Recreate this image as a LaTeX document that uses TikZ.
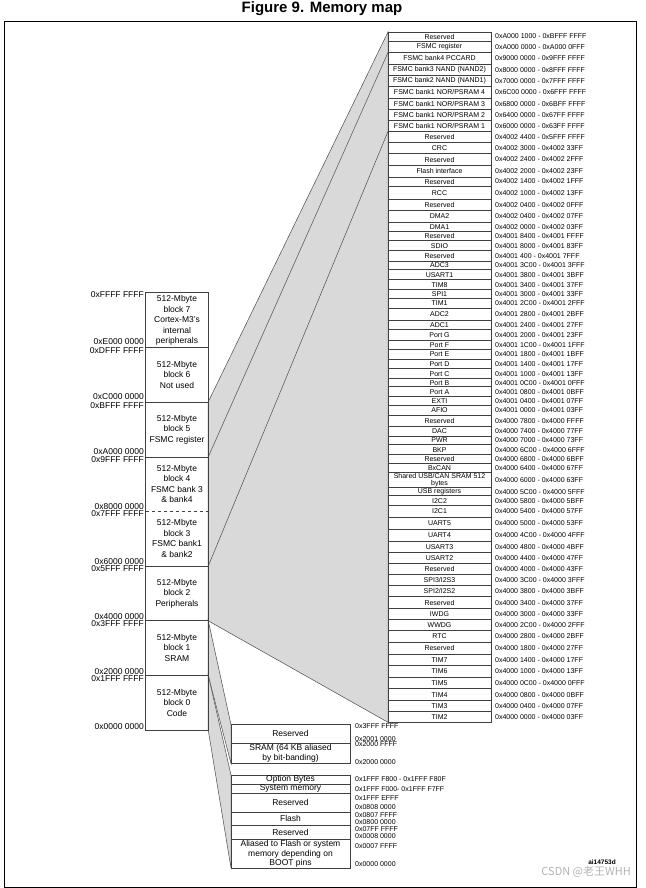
\documentclass[tikz,border=0pt]{standalone}
\usepackage{fontspec}
\setmainfont{Liberation Sans}
\newfontfamily\cjkfont{Noto Sans CJK SC}
\usetikzlibrary{positioning}
\tikzset{
  regbox/.style={draw=black!75, line width=0.8pt, fill=white, minimum width=103pt,
    inner sep=0pt, align=center, font=\fontsize{7}{7.5}\selectfont},
  regaddr/.style={inner sep=0pt, font=\fontsize{7}{8}\selectfont},
  lowbox/.style={draw=black!75, line width=0.8pt, fill=white, minimum width=119pt,
    inner sep=0pt, align=center, font=\fontsize{8.5}{9.2}\selectfont},
  blk/.style={minimum width=62pt, minimum height=54.6pt, inner sep=0pt, align=center,
    font=\fontsize{8.5}{10.5}\selectfont},
  memaddr/.style={inner sep=0pt, anchor=east, font=\fontsize{8.5}{9}\selectfont},
  fan/.style={fill=gray!30, draw=black!70, line width=0.5pt}
}
% one row of the peripheral column: name, top, bottom, label, address
\newcommand{\regrow}[5]{%
  \node[regbox, minimum height={(#3-#2)*1pt}] (r#1) at (439.5,{-(#2+#3)/2}) {#4};
  \node[regaddr, right=3.5pt of r#1] (a#1) {#5};}
% one row of the code/SRAM zoom: name, top, bottom, label
\newcommand{\lowrow}[4]{%
  \node[lowbox, minimum height={(#3-#2)*1pt}] (#1) at (290.5,{-(#2+#3)/2}) {#4};}

\begin{document}
\begin{tikzpicture}[x=1pt,y=1pt]
\useasboundingbox (0,0) rectangle (645,-888);
\node[font=\bfseries\fontsize{15}{18}\selectfont] (title) at (322,-9) {Figure 9. Memory map};
\draw[line width=0.8pt] (4,-21) rectangle (636,-887);

% left column, 8 blocks of 512 Mbyte
\node[blk] (b7) at (177,-320.3) {512-Mbyte\\block 7\\Cortex-M3's\\internal\\peripherals};
\node[blk] (b6) at (177,-374.9) {512-Mbyte\\block 6\\Not used};
\node[blk] (b5) at (177,-429.5) {512-Mbyte\\block 5\\FSMC register};
\node[blk] (b4) at (177,-484.1) {512-Mbyte\\block 4\\FSMC bank 3\\\& bank4};
\node[blk] (b3) at (177,-538.7) {512-Mbyte\\block 3\\FSMC bank1\\\& bank2};
\node[blk] (b2) at (177,-593.3) {512-Mbyte\\block 2\\Peripherals};
\node[blk] (b1) at (177,-647.9) {512-Mbyte\\block 1\\SRAM};
\node[blk] (b0) at (177,-702.5) {512-Mbyte\\block 0\\Code};

% shaded zooms
\coordinate (ptop) at (388,-32);
\coordinate (pbot) at (388,-722.3);
\filldraw[fan] (b5.north east) -- (ptop) -- (pbot) -- (b2.south east) -- cycle;
\draw[black!70, line width=0.5pt] (b5.south east) -- (388,-52.5);
\draw[black!70, line width=0.5pt] (b3.south east) -- (388,-131.5);
\filldraw[fan] (b1.north east) -- (231,-724.7) -- (231,-763.5) -- (b1.south east) -- cycle;
\filldraw[fan] (b0.north east) -- (231,-775) -- (231,-868) -- (b0.south east) -- cycle;

\draw[line width=0.8pt, black!75] (b7.north west) rectangle (b0.south east);
\draw[line width=0.8pt, black!75] (b7.south west) -- (b7.south east);
\draw[line width=0.8pt, black!75] (b6.south west) -- (b6.south east);
\draw[line width=0.8pt, black!75] (b5.south west) -- (b5.south east);
\draw[line width=0.6pt, black!75, dashed] (b4.south west) -- (b4.south east);
\draw[line width=0.8pt, black!75] (b3.south west) -- (b3.south east);
\draw[line width=0.8pt, black!75] (b2.south west) -- (b2.south east);
\draw[line width=0.8pt, black!75] (b1.south west) -- (b1.south east);

\node[memaddr] (l0) at (144,-295) {0xFFFF FFFF};
\node[memaddr] (l1) at (144,-342) {0xE000 0000};
\node[memaddr] (l2) at (144,-350.5) {0xDFFF FFFF};
\node[memaddr] (l3) at (144,-397) {0xC000 0000};
\node[memaddr] (l4) at (144,-405.5) {0xBFFF FFFF};
\node[memaddr] (l5) at (144,-452) {0xA000 0000};
\node[memaddr] (l6) at (144,-459.5) {0x9FFF FFFF};
\node[memaddr] (l7) at (144,-506.5) {0x8000 0000};
\node[memaddr] (l8) at (144,-514) {0x7FFF FFFF};
\node[memaddr] (l9) at (144,-561.5) {0x6000 0000};
\node[memaddr] (l10) at (144,-568.5) {0x5FFF FFFF};
\node[memaddr] (l11) at (144,-616.5) {0x4000 0000};
\node[memaddr] (l12) at (144,-623.5) {0x3FFF FFFF};
\node[memaddr] (l13) at (144,-671.5) {0x2000 0000};
\node[memaddr] (l14) at (144,-678.5) {0x1FFF FFFF};
\node[memaddr] (l15) at (144,-727) {0x0000 0000};

% peripheral and FSMC column
\regrow{1}{32}{41}{Reserved}{0xA000 1000 - 0xBFFF FFFF}
\regrow{2}{41}{52.5}{FSMC register}{0xA000 0000 - 0xA000 0FFF}
\regrow{3}{52.5}{64}{FSMC bank4 PCCARD}{0x9000 0000 - 0x9FFF FFFF}
\regrow{4}{64}{75.2}{FSMC bank3 NAND (NAND2)}{0x8000 0000 - 0x8FFF FFFF}
\regrow{5}{75.2}{86.2}{FSMC bank2 NAND (NAND1)}{0x7000 0000 - 0x7FFF FFFF}
\regrow{6}{86.2}{98}{FSMC bank1 NOR/PSRAM 4}{0x6C00 0000 - 0x6FFF FFFF}
\regrow{7}{98}{109.2}{FSMC bank1 NOR/PSRAM 3}{0x6800 0000 - 0x6BFF FFFF}
\regrow{8}{109.2}{120.5}{FSMC bank1 NOR/PSRAM 2}{0x6400 0000 - 0x67FF FFFF}
\regrow{9}{120.5}{131.5}{FSMC bank1 NOR/PSRAM 1}{0x6000 0000 - 0x63FF FFFF}
\regrow{10}{131.5}{142.2}{Reserved}{0x4002 4400 - 0x5FFF FFFF}
\regrow{11}{142.2}{153.3}{CRC}{0x4002 3000 - 0x4002 33FF}
\regrow{12}{153.3}{165.8}{Reserved}{0x4002 2400 - 0x4002 2FFF}
\regrow{13}{165.8}{177}{Flash interface}{0x4002 2000 - 0x4002 23FF}
\regrow{14}{177}{186}{Reserved}{0x4002 1400 - 0x4002 1FFF}
\regrow{15}{186}{199.2}{RCC}{0x4002 1000 - 0x4002 13FF}
\regrow{16}{199.2}{210.8}{Reserved}{0x4002 0400 - 0x4002 0FFF}
\regrow{17}{210.8}{222.2}{DMA2}{0x4002 0400 - 0x4002 07FF}
\regrow{18}{222.2}{231.8}{DMA1}{0x4002 0000 - 0x4002 03FF}
\regrow{19}{231.8}{240.5}{Reserved}{0x4001 8400 - 0x4001 FFFF}
\regrow{20}{240.5}{250.8}{SDIO}{0x4001 8000 - 0x4001 83FF}
\regrow{21}{250.8}{261}{Reserved}{0x4001 400 - 0x4001 7FFF}
\regrow{22}{261}{269.8}{ADC3}{0x4001 3C00 - 0x4001 3FFF}
\regrow{23}{269.8}{279.8}{USART1}{0x4001 3800 - 0x4001 3BFF}
\regrow{24}{279.8}{289.7}{TIM8}{0x4001 3400 - 0x4001 37FF}
\regrow{25}{289.7}{298.7}{SPI1}{0x4001 3000 - 0x4001 33FF}
\regrow{26}{298.7}{308}{TIM1}{0x4001 2C00 - 0x4001 2FFF}
\regrow{27}{308}{320.2}{ADC2}{0x4001 2800 - 0x4001 2BFF}
\regrow{28}{320.2}{329.3}{ADC1}{0x4001 2400 - 0x4001 27FF}
\regrow{29}{329.3}{340}{Port G}{0x4001 2000 - 0x4001 23FF}
\regrow{30}{340}{349.3}{Port F}{0x4001 1C00 - 0x4001 1FFF}
\regrow{31}{349.3}{359.2}{Port E}{0x4001 1800 - 0x4001 1BFF}
\regrow{32}{359.2}{368.8}{Port D}{0x4001 1400 - 0x4001 17FF}
\regrow{33}{368.8}{378.5}{Port C}{0x4001 1000 - 0x4001 13FF}
\regrow{34}{378.5}{386.8}{Port B}{0x4001 0C00 - 0x4001 0FFF}
\regrow{35}{386.8}{396.5}{Port A}{0x4001 0800 - 0x4001 0BFF}
\regrow{36}{396.5}{405.8}{EXTI}{0x4001 0400 - 0x4001 07FF}
\regrow{37}{405.8}{415.2}{AFIO}{0x4001 0000 - 0x4001 03FF}
\regrow{38}{415.2}{426.5}{Reserved}{0x4000 7800 - 0x4000 FFFF}
\regrow{39}{426.5}{436}{DAC}{0x4000 7400 - 0x4000 77FF}
\regrow{40}{436}{444.8}{PWR}{0x4000 7000 - 0x4000 73FF}
\regrow{41}{444.8}{454.5}{BKP}{0x4000 6C00 - 0x4000 6FFF}
\regrow{42}{454.5}{463.7}{Reserved}{0x4000 6800 - 0x4000 6BFF}
\regrow{43}{463.7}{472.5}{BxCAN}{0x4000 6400 - 0x4000 67FF}
\regrow{44}{472.5}{487.8}{Shared USB/CAN SRAM 512\\bytes}{0x4000 6000 - 0x4000 63FF}
\regrow{45}{487.8}{495.8}{USB registers}{0x4000 5C00 - 0x4000 5FFF}
\regrow{46}{495.8}{505.7}{I2C2}{0x4000 5800 - 0x4000 5BFF}
\regrow{47}{505.7}{517.2}{I2C1}{0x4000 5400 - 0x4000 57FF}
\regrow{48}{517.2}{529.3}{UART5}{0x4000 5000 - 0x4000 53FF}
\regrow{49}{529.3}{541.5}{UART4}{0x4000 4C00 - 0x4000 4FFF}
\regrow{50}{541.5}{552.8}{USART3}{0x4000 4800 - 0x4000 4BFF}
\regrow{51}{552.8}{563.5}{USART2}{0x4000 4400 - 0x4000 47FF}
\regrow{52}{563.5}{574.2}{Reserved}{0x4000 4000 - 0x4000 43FF}
\regrow{53}{574.2}{585.2}{SPI3/I2S3}{0x4000 3C00 - 0x4000 3FFF}
\regrow{54}{585.2}{596.8}{SPI2/I2S2}{0x4000 3800 - 0x4000 3BFF}
\regrow{55}{596.8}{608.5}{Reserved}{0x4000 3400 - 0x4000 37FF}
\regrow{56}{608.5}{619.5}{IWDG}{0x4000 3000 - 0x4000 33FF}
\regrow{57}{619.5}{630.5}{WWDG}{0x4000 2C00 - 0x4000 2FFF}
\regrow{58}{630.5}{642.2}{RTC}{0x4000 2800 - 0x4000 2BFF}
\regrow{59}{642.2}{654.5}{Reserved}{0x4000 1800 - 0x4000 27FF}
\regrow{60}{654.5}{665.8}{TIM7}{0x4000 1400 - 0x4000 17FF}
\regrow{61}{665.8}{677.2}{TIM6}{0x4000 1000 - 0x4000 13FF}
\regrow{62}{677.2}{688.8}{TIM5}{0x4000 0C00 - 0x4000 0FFF}
\regrow{63}{688.8}{700.5}{TIM4}{0x4000 0800 - 0x4000 0BFF}
\regrow{64}{700.5}{711.8}{TIM3}{0x4000 0400 - 0x4000 07FF}
\regrow{65}{711.8}{722.3}{TIM2}{0x4000 0000 - 0x4000 03FF}

% SRAM and code zoom
\lowrow{s1}{724.7}{743}{Reserved}
\lowrow{s2}{743}{763.5}{SRAM (64 KB aliased\\by bit-banding)}
\lowrow{s3}{775}{784.5}{Option Bytes}
\lowrow{s4}{784.5}{793.2}{System memory}
\lowrow{s5}{793.2}{812}{Reserved}
\lowrow{s6}{812}{825}{Flash}
\lowrow{s7}{825}{839.7}{Reserved}
\lowrow{s8}{839.7}{868}{Aliased to Flash or system\\memory depending on\\BOOT pins}

\node[regaddr, anchor=west] (c1) at (355,-726.3) {0x3FFF FFFF};
\node[regaddr, anchor=west] (c2) at (355,-738.7) {0x2001 0000};
\node[regaddr, anchor=west] (c3) at (355,-744) {0x2000 FFFF};
\node[regaddr, anchor=west] (c4) at (355,-762) {0x2000 0000};
\node[regaddr, anchor=west] (c5) at (355,-779.3) {0x1FFF F800 - 0x1FFF F80F};
\node[regaddr, anchor=west] (c6) at (355,-788.7) {0x1FFF F000- 0x1FFF F7FF};
\node[regaddr, anchor=west] (c7) at (355,-798) {0x1FFF EFFF};
\node[regaddr, anchor=west] (c8) at (355,-807.3) {0x0808 0000};
\node[regaddr, anchor=west] (c9) at (355,-814.7) {0x0807 FFFF};
\node[regaddr, anchor=west] (c10) at (355,-822.3) {0x0800 0000};
\node[regaddr, anchor=west] (c11) at (355,-829) {0x07FF FFFF};
\node[regaddr, anchor=west] (c12) at (355,-836.3) {0x0008 0000};
\node[regaddr, anchor=west] (c13) at (355,-845.7) {0x0007 FFFF};
\node[regaddr, anchor=west] (c14) at (355,-863.7) {0x0000 0000};

\node[font=\bfseries\fontsize{6.5}{7}\selectfont, inner sep=0pt] (fig) at (602,-862) {ai14753d};
\node[font=\cjkfont\fontsize{11}{12}\selectfont, text=gray!60, anchor=east, inner sep=0pt] (mark) at (631,-872) {CSDN @老王WHH};
\end{tikzpicture}
\end{document}
